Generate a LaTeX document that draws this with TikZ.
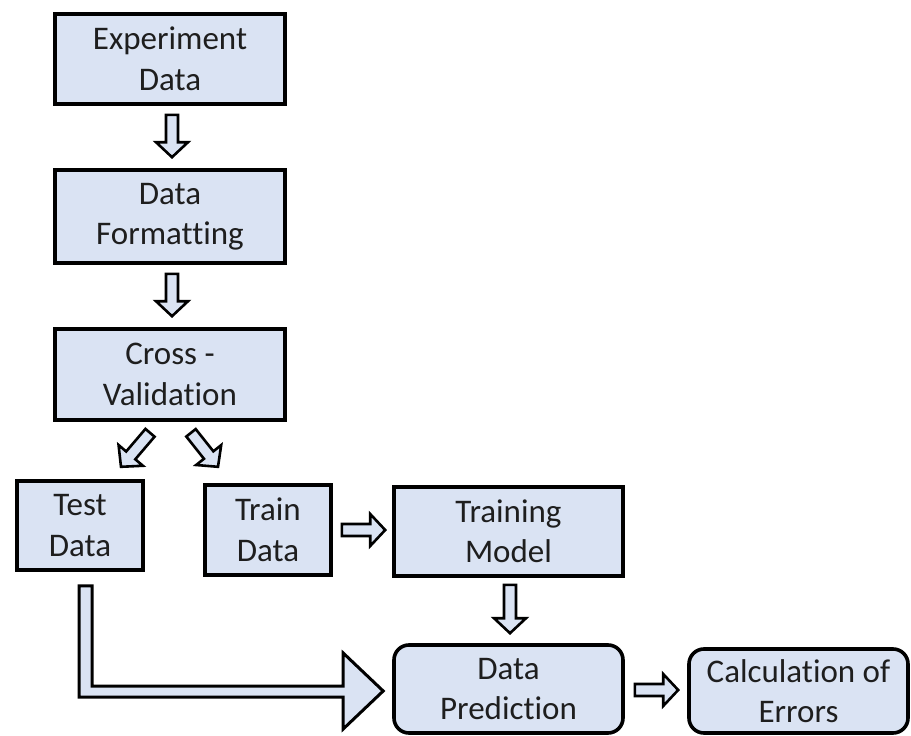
\documentclass[tikz,border=0pt]{standalone}
\usepackage{fontspec}
\setmainfont{Carlito}[Ligatures={NoCommon,NoContextual}]
\usetikzlibrary{calc}
\definecolor{boxfill}{HTML}{DAE3F3}
\definecolor{txt}{HTML}{1E1E1E}
\tikzset{
  box/.style={draw=black, fill=boxfill, line width=3.6pt, inner sep=0pt, align=center,
    text=txt, font=\fontsize{33}{40.5}\selectfont},
  rbox/.style={box, rounded corners=15pt},
  barrow/.style={fill=boxfill, draw=black, line width=2.6pt, line join=miter}
}
\newcommand\blockarr[2]{%
 \filldraw[barrow] let \p1=#1, \p2=#2, \n1={atan2(\y2-\y1,\x2-\x1)}, \n2={veclen(\x2-\x1,\y2-\y1)-15pt} in
 ($(\p1)+(\n1+90:6pt)$) -- ($(\p1)+(\n1:\n2)+(\n1+90:6pt)$) -- ($(\p1)+(\n1:\n2)+(\n1+90:16pt)$) -- (\p2) -- ($(\p1)+(\n1:\n2)+(\n1-90:16pt)$) -- ($(\p1)+(\n1:\n2)+(\n1-90:6pt)$) -- ($(\p1)+(\n1-90:6pt)$) -- cycle;}
\begin{document}
\begin{tikzpicture}[x=1pt, y=-1pt]
\useasboundingbox[fill=white] (0,0) rectangle (911,736);
\node[box, minimum width=230, minimum height=90] (exp) at (170,59) {Experiment\\Data};
\node[box, minimum width=230, minimum height=93] (fmt) at (170,216.5) {Data\\Formatting};
\node[box, minimum width=230, minimum height=91] (cv) at (170,374.5) {Cross -\\Validation};
\node[box, minimum width=126, minimum height=89] (test) at (80,525.5) {Test\\Data};
\node[box, minimum width=126, minimum height=90] (train) at (268,530) {Train\\Data};
\node[box, minimum width=229, minimum height=89] (model) at (508.5,531.5) {Training\\Model};
\node[rbox, minimum width=229, minimum height=88] (pred) at (508.5,689) {Data\\Prediction};
\node[rbox, minimum width=219, minimum height=84] (calc) at (798.5,691) {Calculation of\\Errors};

\blockarr{($(exp.south)+(2,9)$)}{($(fmt.north)+(2,-11)$)}
\blockarr{($(fmt.south)+(2,9)$)}{($(cv.north)+(2,-11)$)}
\blockarr{($(cv.south)+(-20,11)$)}{($(cv.south)+(-49,45)$)}
\blockarr{($(cv.south)+(21,11)$)}{($(cv.south)+(48,45)$)}
\blockarr{($(train.east)+(9,0)$)}{($(model.west)+(-7,-1.5)$)}
\blockarr{($(model.south)+(1.5,7)$)}{($(pred.north)+(1.5,-10)$)}
\blockarr{($(pred.east)+(10,1)$)}{($(calc.west)+(-9,-1)$)}

\coordinate (lt) at ($(test.south)+(-1,14)$);
\coordinate (hc) at ($(pred.west)+(-9,2)$);
\filldraw[barrow, line width=3pt] (lt) -- ++(13,0) |- ($(hc)+(-40,-5)$) -- ($(hc)+(-40,-38)$) -- (hc)
  -- ($(hc)+(-40,38)$) -- ($(hc)+(-40,6)$) -| (lt) -- cycle;
\end{tikzpicture}
\end{document}
